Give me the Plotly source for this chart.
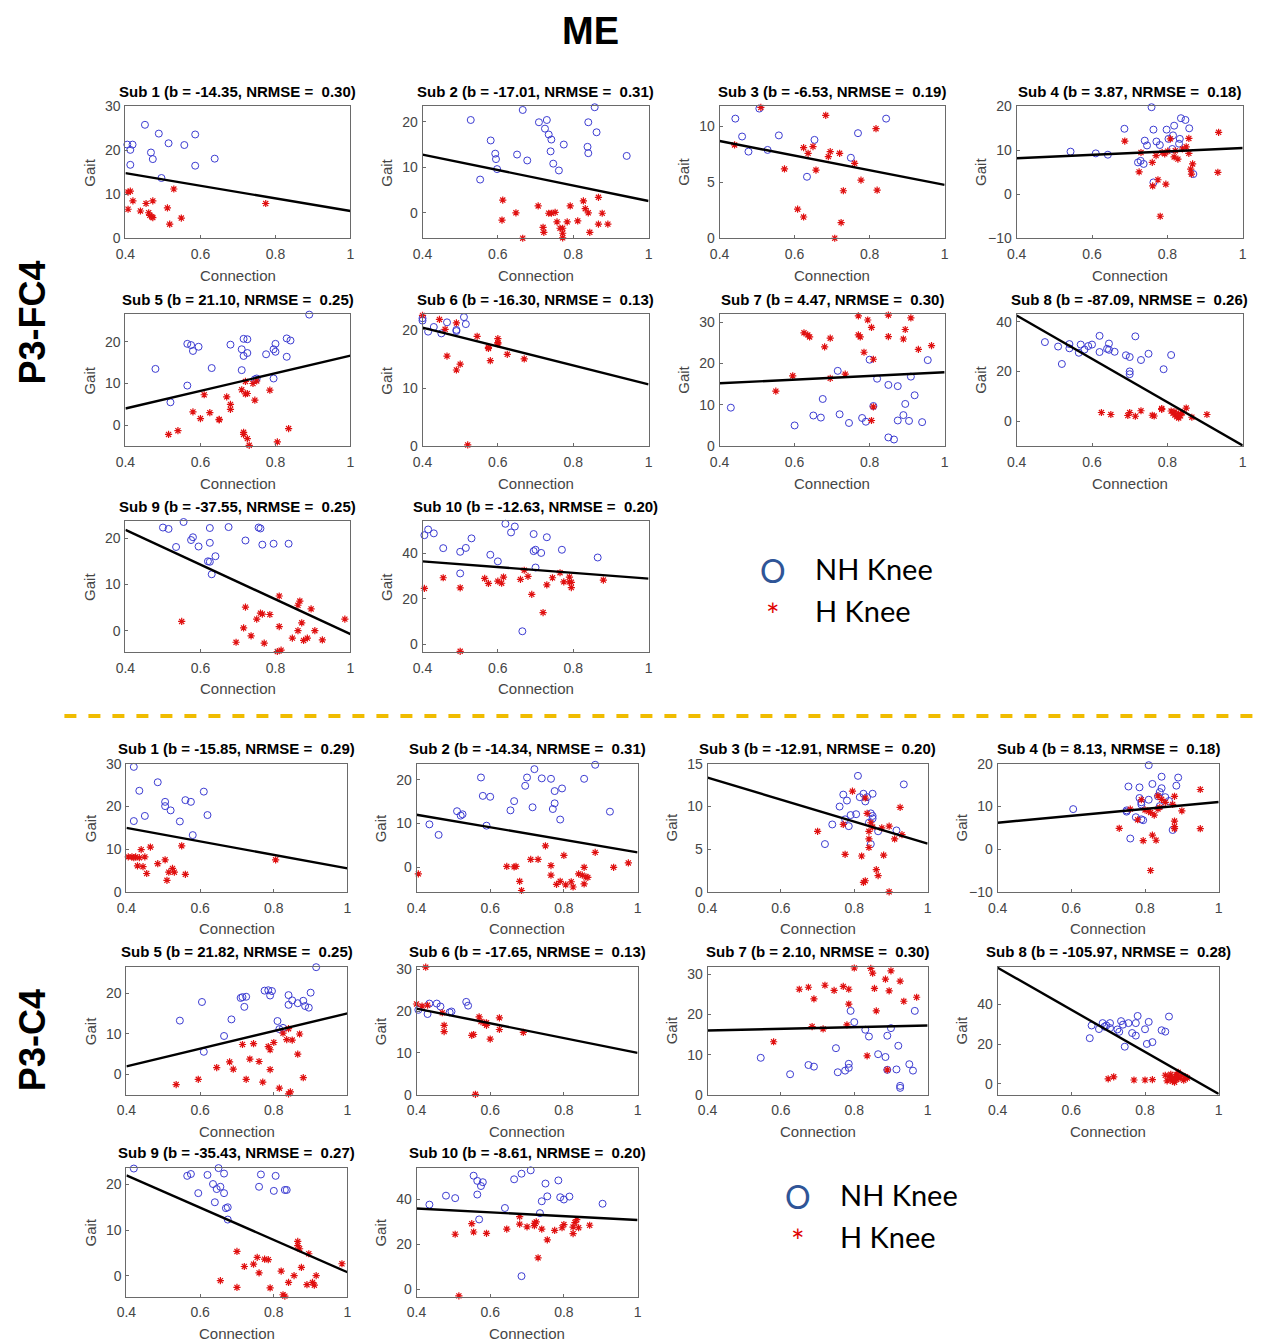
import plotly.graph_objects as go

# Empirical mapping between figure pixels and the photographed page:
# photographed = K * figure_px + C  ->  figure_px = (target - C) / K
K, C = 0.9888, 7.6
W, H = 1279, 1351

# ---------------- DATA: P3-FC4 block ----------------
FC4_B = [-14.35, -17.01, -6.53, 3.87, 21.10, -16.30, 4.47, -87.09, -37.55, -12.63]
FC4_A = [20.54, 19.60, 11.31, 6.65, -4.44, 26.92, 13.41, 77.34, 36.82, 41.55]
FC4_NRMSE = [0.30, 0.31, 0.19, 0.18, 0.25, 0.13, 0.30, 0.26, 0.25, 0.20]
FC4_YRANGE = [(0, 30), (-5.6, 23.4), (0, 11.8), (-10, 20), (-5, 26.6), (0, 22.7),
              (0, 31.9), (-10, 43), (-4.6, 23.7), (-3.3, 54.2)]
FC4_YTICKS = [[0, 10, 20, 30], [0, 10, 20], [0, 5, 10], [-10, 0, 10, 20], [0, 10, 20],
              [0, 10, 20], [0, 10, 20, 30], [0, 20, 40], [0, 10, 20], [0, 20, 40]]

FC4_NH_X = [
    [0.405, 0.419, 0.413, 0.413, 0.452, 0.468, 0.473, 0.489, 0.496, 0.515, 0.557, 0.586, 0.586, 0.638],
    [0.528, 0.666, 0.581, 0.593, 0.595, 0.598, 0.553, 0.651, 0.678, 0.709, 0.730, 0.725, 0.735, 0.742,
     0.740, 0.747, 0.762, 0.775, 0.840, 0.857, 0.862, 0.838, 0.840, 0.942],
    [0.442, 0.506, 0.460, 0.477, 0.528, 0.558, 0.653, 0.633, 0.769, 0.750, 0.844],
    [0.543, 0.610, 0.642, 0.686, 0.722, 0.729, 0.737, 0.740, 0.746, 0.758, 0.763, 0.771, 0.780, 0.763,
     0.798, 0.803, 0.815, 0.818, 0.813, 0.833, 0.831, 0.836, 0.848, 0.858, 0.869],
    [0.48, 0.52, 0.565, 0.565, 0.575, 0.58, 0.595, 0.63, 0.68, 0.71, 0.71, 0.715, 0.715, 0.725, 0.725,
     0.745, 0.75, 0.775, 0.795, 0.795, 0.80, 0.80, 0.83, 0.83, 0.84, 0.89],
    [0.40, 0.40, 0.415, 0.43, 0.45, 0.465, 0.49, 0.49, 0.51, 0.515],
    [0.43, 0.60, 0.65, 0.67, 0.675, 0.715, 0.72, 0.745, 0.78, 0.79, 0.80, 0.81, 0.82, 0.85, 0.85, 0.865,
     0.875, 0.875, 0.89, 0.895, 0.905, 0.91, 0.92, 0.94, 0.955],
    [0.475, 0.51, 0.52, 0.54, 0.54, 0.565, 0.57, 0.58, 0.59, 0.60, 0.62, 0.62, 0.64, 0.645, 0.645, 0.66,
     0.69, 0.70, 0.70, 0.70, 0.715, 0.73, 0.75, 0.79, 0.81],
    [0.50, 0.515, 0.535, 0.555, 0.575, 0.58, 0.595, 0.62, 0.625, 0.625, 0.625, 0.63, 0.64, 0.675, 0.72,
     0.755, 0.76, 0.765, 0.795, 0.835],
    [0.405, 0.415, 0.43, 0.455, 0.50, 0.50, 0.515, 0.53, 0.58, 0.60, 0.62, 0.635, 0.645, 0.665, 0.695,
     0.695, 0.70, 0.70, 0.715, 0.73, 0.77, 0.865],
]
FC4_NH_Y = [
    [21.3, 21.3, 20.1, 16.7, 25.8, 19.5, 18.0, 23.8, 13.7, 21.6, 21.2, 23.6, 16.5, 18.1],
    [20.4, 22.6, 15.9, 13.0, 11.8, 9.6, 7.3, 12.8, 11.5, 19.9, 20.4, 18.5, 17.2, 16.1, 13.5, 10.8, 9.3,
     15.0, 19.9, 23.2, 17.7, 14.5, 13.1, 12.5],
    [10.7, 11.6, 9.1, 7.75, 7.9, 9.2, 8.8, 5.5, 9.4, 7.2, 10.7],
    [9.7, 9.3, 9.0, 14.9, 7.25, 7.6, 6.9, 12.2, 11.1, 19.8, 14.7, 12.0, 11.2, 2.7, 14.7, 12.6, 13.4,
     15.6, 10.3, 12.6, 11.5, 17.3, 16.9, 15.0, 4.6],
    [13.5, 5.5, 9.5, 19.5, 19.2, 17.8, 18.8, 13.7, 19.3, 18.2, 13.2, 16.6, 20.7, 20.6, 17.3, 11.0, 11.2,
     17.0, 18.2, 11.2, 17.6, 19.5, 20.8, 16.4, 20.3, 26.5],
    [22.0, 21.6, 19.7, 20.5, 19.4, 21.3, 19.8, 20.0, 22.2, 21.0],
    [9.3, 5.0, 7.4, 6.9, 11.4, 18.2, 7.7, 5.6, 6.8, 5.9, 20.9, 9.7, 16.3, 14.8, 2.1, 1.6, 14.5, 6.2,
     7.5, 10.2, 6.1, 16.8, 12.3, 5.8, 20.8],
    [31.8, 30.0, 23.0, 29.3, 31.0, 27.5, 30.8, 28.8, 30.2, 30.8, 34.3, 27.8, 29.1, 31.2, 28.7, 27.9,
     26.5, 25.8, 20.0, 18.9, 34.1, 24.6, 27.1, 20.9, 26.6],
    [22.3, 22.0, 18.1, 23.5, 19.6, 20.2, 18.2, 15.0, 14.9, 22.2, 19.0, 12.2, 16.1, 22.4, 19.5, 22.3,
     22.1, 18.6, 18.8, 18.8],
    [48.0, 50.5, 48.8, 42.3, 40.7, 31.2, 42.4, 46.6, 39.4, 36.5, 53.0, 49.2, 51.8, 5.8, 48.5, 41.0,
     41.6, 33.8, 40.2, 47.1, 41.6, 38.2],
]
FC4_H_X = [
    [0.407, 0.413, 0.420, 0.407, 0.440, 0.455, 0.462, 0.465, 0.470, 0.473, 0.473, 0.512, 0.529, 0.518,
     0.549, 0.774],
    [0.613, 0.611, 0.648, 0.666, 0.707, 0.720, 0.722, 0.735, 0.742, 0.752, 0.757, 0.765, 0.772, 0.772,
     0.772, 0.784, 0.792, 0.812, 0.827, 0.832, 0.840, 0.844, 0.867, 0.877, 0.867, 0.892],
    [0.440, 0.510, 0.573, 0.624, 0.636, 0.649, 0.657, 0.608, 0.624, 0.683, 0.690, 0.695, 0.707, 0.720,
     0.724, 0.730, 0.760, 0.777, 0.817, 0.820],
    [0.687, 0.725, 0.730, 0.760, 0.761, 0.770, 0.775, 0.781, 0.786, 0.793, 0.796, 0.801, 0.808, 0.818,
     0.821, 0.828, 0.840, 0.850, 0.857, 0.857, 0.862, 0.864, 0.867, 0.936, 0.934],
    [0.515, 0.54, 0.58, 0.60, 0.61, 0.625, 0.65, 0.65, 0.67, 0.68, 0.68, 0.71, 0.715, 0.715, 0.72,
     0.725, 0.72, 0.725, 0.73, 0.74, 0.745, 0.75, 0.785, 0.805, 0.835],
    [0.40, 0.445, 0.46, 0.465, 0.49, 0.49, 0.50, 0.52, 0.545, 0.575, 0.575, 0.58, 0.60, 0.60, 0.60,
     0.625, 0.67],
    [0.55, 0.595, 0.625, 0.635, 0.64, 0.68, 0.695, 0.695, 0.735, 0.77, 0.77, 0.775, 0.785, 0.795, 0.805,
     0.81, 0.81, 0.805, 0.85, 0.85, 0.89, 0.895, 0.91, 0.93, 0.965],
    [0.625, 0.65, 0.695, 0.70, 0.715, 0.73, 0.76, 0.765, 0.785, 0.785, 0.81, 0.815, 0.82, 0.825, 0.83,
     0.835, 0.84, 0.85, 0.865, 0.905, 0.83, 0.82],
    [0.55, 0.695, 0.715, 0.72, 0.735, 0.75, 0.76, 0.765, 0.77, 0.785, 0.805, 0.81, 0.81, 0.815, 0.845,
     0.86, 0.86, 0.865, 0.87, 0.875, 0.885, 0.895, 0.905, 0.925, 0.985],
    [0.405, 0.455, 0.50, 0.50, 0.565, 0.575, 0.60, 0.61, 0.615, 0.66, 0.67, 0.68, 0.69, 0.72, 0.73,
     0.745, 0.765, 0.775, 0.79, 0.79, 0.795, 0.795, 0.88],
]
FC4_H_Y = [
    [10.5, 10.7, 8.5, 6.6, 6.2, 7.9, 5.8, 5.2, 4.9, 4.7, 8.5, 6.9, 11.2, 3.2, 4.6, 7.9],
    [2.8, -1.6, 0.0, -5.6, 1.5, -3.2, -4.3, -0.1, -0.1, 0.1, -2.0, -3.4, -3.4, -4.5, -5.5, -2.0, 1.5,
     -1.8, 2.6, 0.9, 0.0, -4.3, 3.4, -0.1, -2.5, -2.5],
    [8.35, 11.7, 6.2, 8.1, 7.6, 8.2, 6.1, 2.6, 1.9, 11.0, 7.3, 7.75, 0.0, 7.6, 1.4, 4.25, 6.7, 5.2, 9.8, 4.3],
    [12.1, 5.1, 9.5, 7.25, 1.9, 8.8, 3.3, -5.0, 9.5, 9.2, 2.3, 9.8, 12.6, 8.5, 9.9, 8.0, 10.3, 10.8,
     9.3, 12.7, 5.7, 4.6, 6.9, 14.1, 5.0],
    [-2.2, -1.3, 3.2, 1.6, 7.3, 3.0, 1.4, 1.3, 6.8, 5.0, 3.8, 8.5, -1.7, -2.2, 7.5, 7.6, 10.5, -3.2,
     -4.8, 10.0, 6.0, 10.6, 8.4, -4.0, -0.8],
    [22.5, 21.8, 20.1, 15.5, 21.2, 13.1, 14.1, 0.2, 18.9, 16.8, 17.0, 14.7, 18.5, 17.8, 17.6, 15.8, 15.0],
    [13.3, 17.0, 27.4, 26.9, 26.4, 24.0, 26.1, 16.4, 17.4, 31.5, 26.9, 26.4, 22.7, 30.5, 28.7, 21.0,
     9.5, 6.2, 31.7, 26.5, 25.9, 28.2, 31.0, 23.4, 24.3],
    [3.5, 2.7, 2.3, 3.5, 2.0, 4.2, 2.4, 2.1, 5.1, 4.8, 4.1, 3.2, 2.5, 1.8, 1.3, 2.2, 3.4, 5.3, 1.6, 2.7,
     3.0, 3.8],
    [2.0, -2.5, 0.6, 5.1, -1.1, 2.5, 3.8, 3.6, -2.7, 3.5, -4.5, 0.9, 7.5, -4.2, -1.6, 0.0, 5.5, 6.4,
     1.7, -2.1, -1.6, 4.7, 0.0, -2.0, 2.5],
    [24.6, 29.3, 24.9, -3.0, 29.0, 26.8, 27.8, 26.9, 29.6, 28.6, 32.6, 29.9, 22.0, 14.0, 26.2, 29.3,
     31.5, 27.5, 27.5, 29.6, 25.0, 27.3, 28.3],
]

# ---------------- DATA: P3-C4 block ----------------
C4_B = [-15.85, -14.34, -12.91, 8.13, 21.82, -17.65, 2.10, -105.97, -35.43, -8.61]
C4_A = [21.34, 17.74, 18.56, 2.95, -6.73, 27.66, 15.16, 100.89, 36.17, 39.44]
C4_NRMSE = [0.29, 0.31, 0.20, 0.18, 0.25, 0.13, 0.30, 0.28, 0.27, 0.20]
C4_YRANGE = [(0, 30), (-5.6, 23.6), (0, 15), (-10, 20), (-5, 26.6), (0, 30.6),
             (0, 31.9), (-5.5, 59), (-4.6, 23.7), (-3.3, 54.2)]
C4_YTICKS = [[0, 10, 20, 30], [0, 10, 20], [0, 5, 10, 15], [-10, 0, 10, 20], [0, 10, 20],
             [0, 10, 20, 30], [0, 10, 20, 30], [0, 20, 40], [0, 10, 20], [0, 20, 40]]

C4_NH_X = [
    [0.42, 0.42, 0.435, 0.45, 0.485, 0.505, 0.505, 0.52, 0.545, 0.56, 0.575, 0.58, 0.61, 0.62],
    [0.435, 0.46, 0.51, 0.52, 0.525, 0.575, 0.58, 0.59, 0.60, 0.655, 0.665, 0.695, 0.70, 0.715, 0.72,
     0.74, 0.765, 0.77, 0.775, 0.775, 0.79, 0.795, 0.855, 0.885, 0.925],
    [0.72, 0.725, 0.74, 0.76, 0.77, 0.775, 0.78, 0.785, 0.79, 0.805, 0.81, 0.815, 0.825, 0.83, 0.835,
     0.84, 0.845, 0.845, 0.85, 0.85, 0.85, 0.865, 0.915, 0.935],
    [0.605, 0.75, 0.75, 0.755, 0.76, 0.775, 0.785, 0.785, 0.79, 0.79, 0.79, 0.795, 0.81, 0.81, 0.82,
     0.835, 0.84, 0.845, 0.845, 0.855, 0.865, 0.875, 0.885, 0.89, 0.84],
    [0.545, 0.605, 0.61, 0.665, 0.685, 0.71, 0.715, 0.72, 0.725, 0.775, 0.785, 0.79, 0.795, 0.81, 0.815,
     0.825, 0.84, 0.84, 0.85, 0.865, 0.88, 0.885, 0.895, 0.90, 0.915],
    [0.405, 0.43, 0.435, 0.455, 0.465, 0.49, 0.495, 0.535, 0.54],
    [0.545, 0.625, 0.675, 0.69, 0.75, 0.755, 0.775, 0.785, 0.785, 0.79, 0.80, 0.83, 0.84, 0.865, 0.885,
     0.89, 0.89, 0.90, 0.915, 0.92, 0.925, 0.925, 0.95, 0.96, 0.965],
    [0.65, 0.655, 0.675, 0.685, 0.69, 0.695, 0.705, 0.705, 0.725, 0.73, 0.735, 0.74, 0.745, 0.755, 0.765,
     0.775, 0.775, 0.78, 0.80, 0.805, 0.81, 0.82, 0.845, 0.855, 0.865],
    [0.42, 0.565, 0.575, 0.595, 0.62, 0.635, 0.64, 0.645, 0.65, 0.655, 0.665, 0.665, 0.67, 0.675, 0.675,
     0.76, 0.765, 0.80, 0.805, 0.83, 0.835],
    [0.435, 0.48, 0.505, 0.555, 0.565, 0.565, 0.57, 0.575, 0.58, 0.64, 0.665, 0.685, 0.685, 0.71, 0.735,
     0.74, 0.75, 0.755, 0.785, 0.79, 0.80, 0.815, 0.905],
]
C4_NH_Y = [
    [16.6, 29.3, 23.7, 17.8, 25.7, 21.1, 20.1, 19.1, 16.5, 21.5, 21.1, 13.3, 23.5, 18.0],
    [9.8, 7.4, 12.8, 11.8, 12.1, 20.5, 16.3, 9.5, 16.1, 13.0, 15.1, 18.6, 20.5, 13.7, 22.4, 20.3, 20.2,
     13.3, 14.6, 17.4, 10.9, 18.0, 20.2, 23.4, 12.7],
    [5.6, 15.1, 7.9, 10.0, 11.4, 8.5, 10.7, 7.7, 9.0, 9.1, 13.6, 11.1, 11.5, 10.6, 11.1, 8.1, 9.2, 5.6,
     11.5, 8.6, 8.9, 7.1, 7.2, 12.6],
    [9.4, 8.8, 9.1, 14.7, 2.5, 7.5, 14.5, 12.0, 10.5, 11.0, 7.0, 6.8, 11.6, 19.7, 15.3, 12.4, 13.4,
     14.3, 17.0, 12.2, 11.3, 4.5, 14.9, 16.8, 10.1],
    [13.3, 17.9, 5.6, 9.5, 13.6, 18.9, 19.1, 16.7, 19.2, 20.7, 20.8, 19.5, 20.6, 13.2, 11.2, 11.5, 19.6,
     17.2, 18.3, 17.6, 18.2, 16.9, 16.5, 20.2, 26.5],
    [20.3, 19.3, 21.8, 21.8, 21.1, 19.7, 19.9, 22.2, 21.3],
    [9.2, 5.1, 7.4, 7.0, 11.6, 5.6, 6.0, 6.7, 7.7, 20.9, 18.1, 16.2, 14.5, 10.1, 9.4, 14.7, 6.2, 16.6,
     6.3, 12.2, 2.2, 1.7, 7.6, 6.0, 20.9],
    [23.0, 29.4, 27.6, 30.6, 28.8, 29.4, 30.6, 28.1, 27.4, 26.2, 31.6, 29.8, 18.7, 30.6, 25.6, 30.6,
     24.3, 34.2, 27.5, 20.1, 31.2, 21.0, 27.0, 26.3, 33.9],
    [23.5, 21.9, 22.3, 18.1, 22.1, 20.1, 16.1, 19.0, 23.6, 19.5, 18.1, 22.4, 14.8, 15.0, 12.3, 19.5,
     22.2, 18.6, 21.9, 18.8, 18.8],
    [37.7, 41.7, 40.6, 50.6, 42.2, 48.3, 31.1, 46.0, 47.7, 36.2, 49.0, 51.5, 5.8, 53.0, 33.9, 39.2,
     47.1, 41.4, 48.5, 41.0, 40.0, 41.3, 38.1],
]
C4_H_X = [
    [0.405, 0.415, 0.42, 0.425, 0.43, 0.435, 0.44, 0.445, 0.45, 0.455, 0.465, 0.485, 0.505, 0.51, 0.515,
     0.525, 0.53, 0.55, 0.56, 0.805],
    [0.405, 0.645, 0.665, 0.67, 0.68, 0.685, 0.71, 0.73, 0.75, 0.765, 0.765, 0.78, 0.79, 0.80, 0.805,
     0.82, 0.825, 0.84, 0.85, 0.855, 0.855, 0.86, 0.865, 0.885, 0.935, 0.975],
    [0.70, 0.77, 0.775, 0.795, 0.82, 0.825, 0.83, 0.83, 0.835, 0.84, 0.84, 0.84, 0.845, 0.85, 0.86,
     0.865, 0.875, 0.88, 0.895, 0.895, 0.91, 0.925, 0.93],
    [0.73, 0.76, 0.78, 0.79, 0.795, 0.80, 0.81, 0.815, 0.815, 0.82, 0.825, 0.83, 0.835, 0.835, 0.84,
     0.845, 0.855, 0.875, 0.88, 0.88, 0.88, 0.88, 0.90, 0.95, 0.95],
    [0.535, 0.595, 0.645, 0.68, 0.69, 0.715, 0.725, 0.735, 0.745, 0.76, 0.77, 0.785, 0.79, 0.79, 0.80,
     0.815, 0.825, 0.835, 0.84, 0.84, 0.845, 0.85, 0.865, 0.87, 0.88],
    [0.40, 0.415, 0.425, 0.43, 0.47, 0.475, 0.475, 0.55, 0.555, 0.56, 0.57, 0.575, 0.585, 0.59, 0.59,
     0.60, 0.625, 0.625, 0.69],
    [0.58, 0.65, 0.675, 0.685, 0.69, 0.715, 0.72, 0.745, 0.77, 0.78, 0.785, 0.785, 0.80, 0.835, 0.845,
     0.85, 0.855, 0.86, 0.885, 0.89, 0.895, 0.90, 0.925, 0.935, 0.97],
    [0.70, 0.715, 0.77, 0.80, 0.82, 0.855, 0.86, 0.865, 0.87, 0.87, 0.875, 0.88, 0.885, 0.885, 0.89,
     0.89, 0.895, 0.90, 0.905, 0.91, 0.915, 0.88],
    [0.655, 0.70, 0.70, 0.72, 0.745, 0.755, 0.76, 0.775, 0.785, 0.79, 0.82, 0.825, 0.83, 0.84, 0.855,
     0.865, 0.865, 0.87, 0.875, 0.89, 0.895, 0.905, 0.91, 0.915, 0.985],
    [0.505, 0.515, 0.55, 0.555, 0.59, 0.645, 0.68, 0.68, 0.70, 0.72, 0.72, 0.725, 0.73, 0.74, 0.755,
     0.775, 0.795, 0.80, 0.825, 0.825, 0.83, 0.835, 0.84, 0.87],
]
C4_H_Y = [
    [8.2, 8.2, 8.0, 8.2, 6.1, 8.0, 9.9, 5.9, 8.2, 4.3, 10.5, 6.6, 7.5, 2.7, 4.6, 5.5, 4.6, 10.8, 4.1, 7.5],
    [-1.5, 0.2, 0.1, 0.2, -3.2, -5.3, 1.8, 1.8, 4.9, 0.4, -1.8, -3.9, -3.2, 2.7, -4.0, -3.3, -4.5, -1.5,
     -1.8, 0.0, -3.8, -2.2, -2.3, 3.4, 0.0, 1.0],
    [7.1, 7.9, 4.4, 11.8, 4.2, 1.1, 1.3, 11.0, 9.2, 7.1, 6.2, 5.2, 8.1, 7.6, 2.6, 1.9, 7.5, 4.3, 7.7,
     0.0, 6.2, 9.9, 6.7],
    [4.9, 9.4, 6.9, 11.6, 2.0, 9.2, 8.9, -5.0, 8.6, 3.3, 8.0, 2.1, 12.5, 9.4, 9.8, 11.7, 11.0, 10.5,
     12.4, 6.6, 5.3, 4.8, 9.0, 14.0, 4.8],
    [-2.5, -1.2, 1.7, 3.1, 1.3, 7.4, -1.2, 3.8, 7.6, 3.2, -1.9, 6.9, 6.1, 1.2, 7.9, -3.4, 10.2, 8.6,
     11.3, -4.8, -4.3, 8.5, 5.0, 10.0, -0.8],
    [21.7, 21.2, 30.5, 21.4, 19.6, 16.6, 15.1, 14.2, 14.4, 0.1, 18.6, 17.5, 17.1, 16.6, 17.2, 13.3,
     18.4, 15.6, 14.9],
    [13.2, 26.3, 26.8, 17.0, 23.9, 16.4, 27.3, 26.0, 27.0, 17.4, 22.6, 26.3, 31.6, 9.7, 31.5, 30.3,
     26.5, 20.9, 28.8, 6.2, 25.9, 30.9, 28.3, 23.3, 24.3],
    [2.5, 3.5, 1.9, 1.9, 2.1, 4.3, 1.5, 3.6, 4.8, 2.4, 1.3, 3.2, 4.5, 2.2, 5.8, 3.3, 2.8, 4.2, 1.8, 3.5,
     2.9, 0.8],
    [-1.1, 5.3, -2.6, 2.0, 2.5, 4.0, 0.6, 3.6, 3.5, -2.7, 1.0, -4.2, -4.5, -1.5, 0.0, 7.5, 6.6, 5.9, 1.8,
     -2.0, 4.8, -1.5, -2.1, 0.0, 2.6],
    [24.5, -3.0, 29.2, 25.5, 24.9, 26.8, 32.4, 29.0, 27.8, 28.3, 29.4, 30.0, 14.0, 26.8, 22.0, 26.2,
     27.4, 28.8, 24.8, 27.7, 29.7, 31.0, 27.4, 28.5],
]

X_TICKS = [0.4, 0.6, 0.8, 1.0]
X_TICKTEXT = ["0.4", "0.6", "0.8", "1"]
X_LINE = [0.4, 1.0]

# ---------------- LAYOUT (target picture-pixel boxes) ----------------
TOP_COLS = [(123, 348), (420, 646), (717, 942), (1014, 1240)]
TOP_ROWS = [(106, 238), (314, 446), (521, 652)]
BOT_COLS = [(124, 345), (414, 635), (705, 925), (995, 1216)]
BOT_ROWS = [(764, 892), (967, 1095), (1168, 1297)]

BLUE = "#3c3cd2"
RED = "#e01010"
AXC = "#6a6a6a"
TICKF = dict(family="Arial, Liberation Sans, sans-serif", size=14, color="#454545")

fig = go.Figure()
layout = dict(width=W, height=H, margin=dict(l=0, r=0, t=0, b=0),
              paper_bgcolor="white", plot_bgcolor="white", showlegend=False)
annotations = []
shapes = []

def fpx(t):
    return (t - C) / K

def px(x):
    return fpx(x) / W

def py(y):
    return 1 - fpx(y) / H

blocks = [
    (TOP_COLS, TOP_ROWS, FC4_B, FC4_A, FC4_NRMSE, FC4_YRANGE, FC4_YTICKS,
     FC4_NH_X, FC4_NH_Y, FC4_H_X, FC4_H_Y),
    (BOT_COLS, BOT_ROWS, C4_B, C4_A, C4_NRMSE, C4_YRANGE, C4_YTICKS,
     C4_NH_X, C4_NH_Y, C4_H_X, C4_H_Y),
]

n = 0
for (cols, rows, B, A, NR, YR, YT, NHX, NHY, HX, HY) in blocks:
    for i in range(10):
        n += 1
        r, c = divmod(i, 4)
        x0, x1 = cols[c]
        y0, y1 = rows[r]
        xa = "x" if n == 1 else f"x{n}"
        ya = "y" if n == 1 else f"y{n}"
        xk = "xaxis" if n == 1 else f"xaxis{n}"
        yk = "yaxis" if n == 1 else f"yaxis{n}"
        layout[xk] = dict(domain=[px(x0), px(x1)], anchor=ya, range=[0.4, 1.0],
                          tickvals=X_TICKS, ticktext=X_TICKTEXT, ticks="inside", ticklen=3,
                          tickcolor=AXC, showline=True, mirror=True, linecolor=AXC, linewidth=1,
                          showgrid=False, zeroline=False, tickfont=TICKF, ticklabelstandoff=3)
        layout[yk] = dict(domain=[py(y1), py(y0)], anchor=xa, range=list(YR[i]),
                          tickvals=YT[i], ticks="inside", ticklen=3, tickcolor=AXC,
                          showline=True, mirror=True, linecolor=AXC, linewidth=1,
                          showgrid=False, zeroline=False, tickfont=TICKF, ticklabelstandoff=1)
        fig.add_trace(go.Scatter(x=NHX[i], y=NHY[i], mode="markers", xaxis=xa, yaxis=ya,
                                 cliponaxis=False,
                                 marker=dict(symbol="circle-open", size=7, color=BLUE,
                                             line=dict(width=1, color=BLUE))))
        fig.add_trace(go.Scatter(x=HX[i], y=HY[i], mode="markers", xaxis=xa, yaxis=ya,
                                 cliponaxis=False,
                                 marker=dict(symbol="asterisk-open", size=6, color=RED,
                                             line=dict(width=1.2, color=RED))))
        fig.add_trace(go.Scatter(x=X_LINE, y=[A[i] + B[i] * xv for xv in X_LINE], mode="lines",
                                 xaxis=xa, yaxis=ya, line=dict(color="black", width=2.4)))
        cx = (x0 + x1) / 2
        annotations.append(dict(
            x=px(cx), y=py(y0 - 15), xref="paper", yref="paper", showarrow=False,
            text=f"<b>Sub {i + 1} (b = {B[i]:.2f}, NRMSE =\u00a0\u00a0{NR[i]:.2f})</b>",
            font=dict(family="Arial, Liberation Sans, sans-serif", size=15, color="black"),
            xanchor="center", yanchor="middle"))
        annotations.append(dict(
            x=px(cx), y=py(y1 + 37), xref="paper", yref="paper", showarrow=False,
            text="Connection", font=dict(family="Arial, Liberation Sans, sans-serif", size=15,
                                         color="#454545"),
            xanchor="center", yanchor="middle"))
        annotations.append(dict(
            x=px(x0 - 36), y=py((y0 + y1) / 2), xref="paper", yref="paper", showarrow=False,
            text="Gait", textangle=-90,
            font=dict(family="Arial, Liberation Sans, sans-serif", size=15, color="#454545"),
            xanchor="center", yanchor="middle"))

# Big labels
annotations.append(dict(x=px(588), y=py(31), xref="paper", yref="paper", showarrow=False,
                        text="<b>ME</b>", font=dict(family="Arial, Liberation Sans", size=38,
                                                    color="black"),
                        xanchor="center", yanchor="middle"))
annotations.append(dict(x=px(30), y=py(322), xref="paper", yref="paper", showarrow=False,
                        text="<b>P3-FC4</b>", textangle=-90,
                        font=dict(family="Arial, Liberation Sans", size=36, color="black"),
                        xanchor="center", yanchor="middle"))
annotations.append(dict(x=px(30), y=py(1040), xref="paper", yref="paper", showarrow=False,
                        text="<b>P3-C4</b>", textangle=-90,
                        font=dict(family="Arial, Liberation Sans", size=36, color="black"),
                        xanchor="center", yanchor="middle"))

# Legends
for (lx, ly) in [(770, 568), (795, 1195)]:
    annotations.append(dict(x=px(lx), y=py(ly + 2), xref="paper", yref="paper", showarrow=False,
                            text="O", font=dict(family="Lato, Open Sans", size=32, color="#2f5597"),
                            xanchor="center", yanchor="middle"))
    annotations.append(dict(x=px(lx), y=py(ly + 46), xref="paper", yref="paper", showarrow=False,
                            text="*", font=dict(family="Lato, Open Sans", size=32, color="#e00000"),
                            xanchor="center", yanchor="middle"))
    annotations.append(dict(x=px(lx + 40), y=py(ly), xref="paper", yref="paper", showarrow=False,
                            text="NH Knee", font=dict(family="Lato, Open Sans", size=29, color="black"),
                            xanchor="left", yanchor="middle"))
    annotations.append(dict(x=px(lx + 40), y=py(ly + 42), xref="paper", yref="paper", showarrow=False,
                            text="H Knee", font=dict(family="Lato, Open Sans", size=29, color="black"),
                            xanchor="left", yanchor="middle"))

shapes.append(dict(type="line", xref="paper", yref="paper", x0=px(62), x1=px(1254),
                   y0=py(716), y1=py(716), line=dict(color="#f0bc00", width=4, dash="dash")))

layout["annotations"] = annotations
layout["shapes"] = shapes
fig.update_layout(**layout)
fig.write_html("out.html")
